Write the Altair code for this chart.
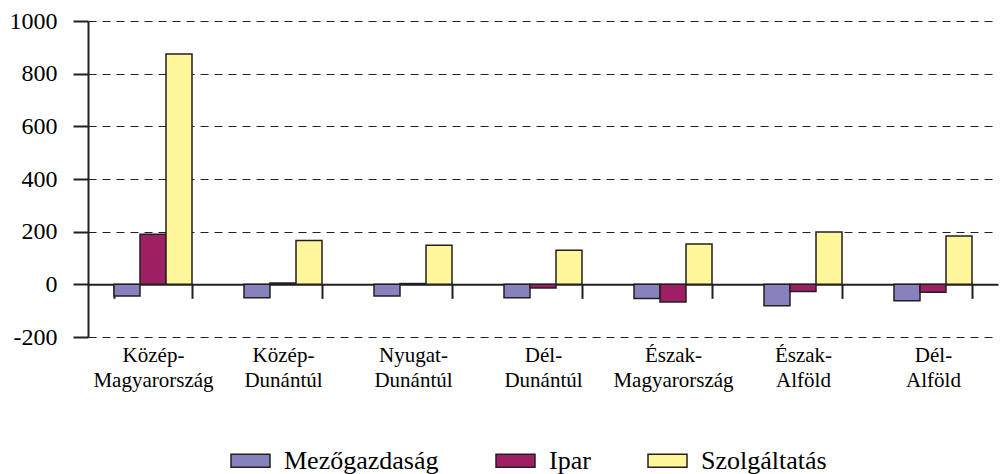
import altair as alt
import pandas as pd

regions = ["Közép-Magyarország", "Közép-Dunántúl", "Nyugat-Dunántúl", "Dél-Dunántúl",
           "Észak-Magyarország", "Észak-Alföld", "Dél-Alföld"]
sectors = ["Mezőgazdaság", "Ipar", "Szolgáltatás"]
mezogazdasag = [-44, -51, -44, -51, -54, -81, -62]
ipar = [190, 5, 3, -14, -67, -27, -30]
szolgaltatas = [875, 166, 148, 129, 153, 199, 184]
colors = ["#8781BD", "#9E1F63", "#FFF799"]
y_ticks = [-200, 0, 200, 400, 600, 800, 1000]

rows = []
for i, r in enumerate(regions):
    for s, vals in zip(sectors, [mezogazdasag, ipar, szolgaltatas]):
        rows.append({"region": r, "sector": s, "value": vals[i]})
df = pd.DataFrame(rows)

FONT = "Liberation Serif"
DARK = "#231f20"
H = 316
zero_offset = -H * 200 / 1200

chart = alt.Chart(df).mark_bar(stroke=DARK, strokeWidth=1.5).encode(
    x=alt.X("region:N", sort=regions, title=None,
            scale=alt.Scale(paddingInner=0.4, paddingOuter=0.2),
            axis=alt.Axis(orient="bottom", offset=zero_offset, tickBand="extent",
                          tickSize=14, tickWidth=2, tickColor=DARK,
                          domainColor=DARK, domainWidth=2,
                          labelAngle=0, labelFont=FONT, labelFontSize=21,
                          labelColor="black", labelPadding=46, labelLineHeight=25,
                          labelBaseline="top",
                          labelExpr="datum.label ? [split(datum.label,'-')[0] + '-', split(datum.label,'-')[1]] : ''")),
    xOffset=alt.XOffset("sector:N", sort=sectors),
    y=alt.Y("value:Q", title=None,
            scale=alt.Scale(domain=[-200, 1000], nice=False, zero=False),
            axis=alt.Axis(values=y_ticks, tickSize=15, tickWidth=2, tickColor=DARK,
                          domainColor=DARK, domainWidth=2,
                          labelExpr="toString(datum.value)",
                          labelFont=FONT, labelFontSize=24, labelColor="black",
                          labelPadding=16, grid=True, gridColor=DARK,
                          gridDash=[8, 6], gridWidth=1.2)),
    color=alt.Color("sector:N", sort=sectors, title=None,
                    scale=alt.Scale(domain=sectors, range=colors),
                    legend=alt.Legend(orient="none", legendX=142, legendY=419,
                                      direction="horizontal", columns=3,
                                      columnPadding=54, labelOffset=13,
                                      labelFont=FONT, labelFontSize=26,
                                      labelColor="black",
                                      symbolType="M-1,-0.333H1V0.333H-1Z",
                                      symbolSize=1521, symbolStrokeColor=DARK,
                                      symbolStrokeWidth=1.5, symbolOpacity=1,
                                      padding=0)),
).properties(
    width=910, height=H,
    autosize="none",
    padding={"left": 80, "top": 13, "right": 1, "bottom": 137},
).configure(font=FONT).configure_axis(labelFont=FONT).configure_view(stroke=None)

chart.save("out.html", embed_options={"renderer": "svg", "actions": False})
